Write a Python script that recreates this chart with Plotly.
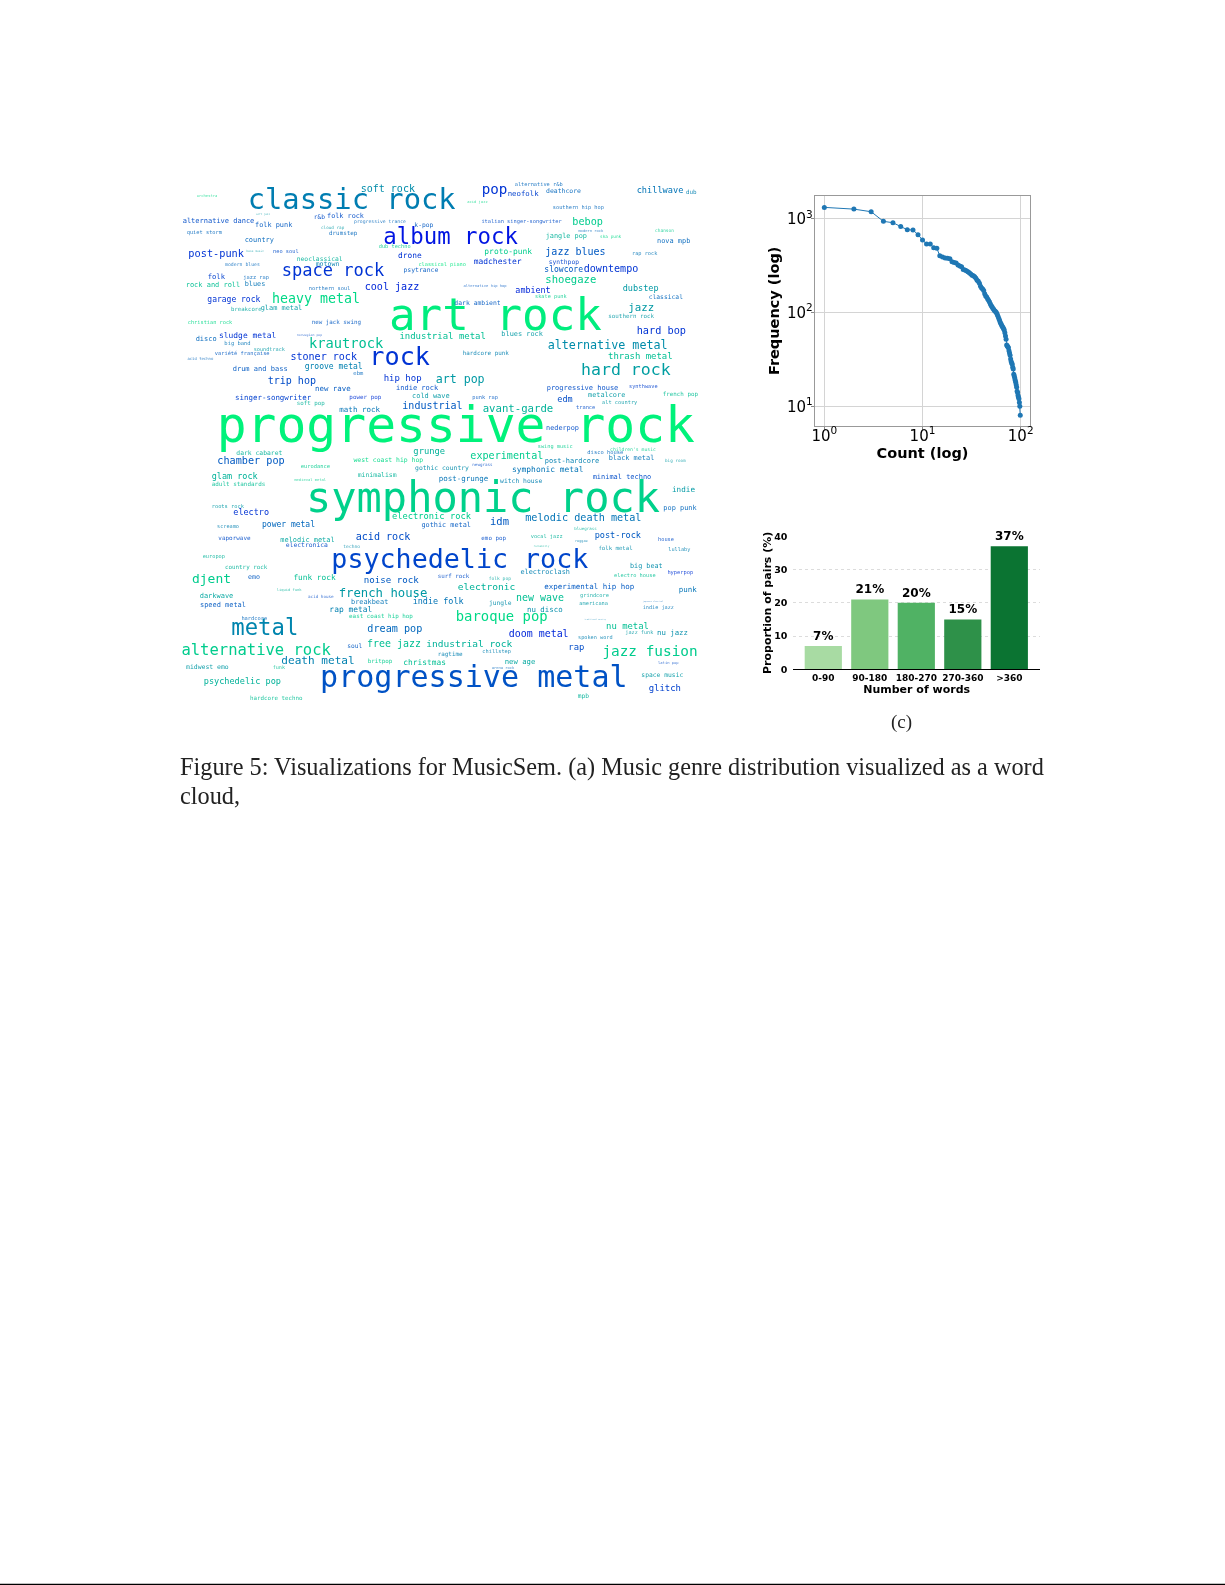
import plotly.graph_objects as go

PAGE_W, PAGE_H = 1225, 1585

# ---------- panel (b): rank / frequency ----------
rank = list(range(1, 100))
frequency = [
    1320, 1265, 1187, 937, 906, 828, 763, 757, 675, 593,
    537, 537, 491, 483, 403, 390, 381, 378, 375, 348,
    342, 337, 321, 313, 308, 288, 284, 279, 272, 265,
    258, 250, 246, 240, 232, 220, 215, 205, 190, 182,
    178, 172, 158, 150, 146, 140, 135, 130, 124, 119,
    115, 111, 108, 105, 103, 101, 98, 94, 90, 86,
    82, 78, 76, 73, 71, 69, 67, 65, 61, 56,
    52, 45, 44, 43, 42, 39, 37, 35, 32, 30,
    29, 28, 26, 25, 22, 21, 20, 19, 18, 17,
    16, 14.5, 14, 13, 12.5, 12, 11, 10, 8,
]
log_tick_vals_x = [1, 10, 100]
log_tick_text_x = ["10<sup>0</sup>", "10<sup>1</sup>", "10<sup>2</sup>"]
log_tick_vals_y = [10, 100, 1000]
log_tick_text_y = ["10<sup>1</sup>", "10<sup>2</sup>", "10<sup>3</sup>"]

# ---------- panel (c): word-count bars ----------
bar_labels = ["0-90", "90-180", "180-270", "270-360", ">360"]
bar_values = [7, 21, 20, 15, 37]
bar_text = ["7%", "21%", "20%", "15%", "37%"]
bar_colors = ["#a8dba3", "#7fc87f", "#50b264", "#2e9149", "#0b7432"]

# ---------- panel (a): word cloud ----------
# left edge, right edge, mid height (crop units) and tone (0 blue .. 1 green)
a_words = ["soft rock", "classic rock", "alternative dance", "folk punk", "r&b", "folk rock", "progressive trance", "k-pop",
           "quiet storm", "cloud rap", "drumstep", "album rock", "country", "dub techno", "post-punk", "neo soul",
           "bass music", "drone", "neoclassical", "modern blues", "motown", "space rock", "psytrance", "classical piano",
           "folk", "jazz rap", "blues", "rock and roll", "northern soul", "cool jazz", "heavy metal", "garage rock",
           "glam metal", "breakcore", "christian rock", "new jack swing", "disco", "sludge metal", "krautrock", "big band",
           "soundtrack", "industrial metal", "variété française", "stoner rock", "rock", "drum and bass", "groove metal", "trip hop",
           "hip hop", "new rave", "indie rock", "singer-songwriter", "power pop", "cold wave", "soft pop", "math rock",
           "industrial", "art rock", "progressive rock", "orchestra", "acid techno", "ebm", "norwegian pop", "soft jazz"]
a_x0 = [572, 233, 38, 255, 431, 471, 552, 733,
        50, 453, 477, 640, 224, 626, 55, 309,
        229, 684, 380, 165, 437, 335, 700, 745,
        113, 220, 224, 47, 416, 584, 306, 112,
        272, 183, 53, 425, 77, 147, 417, 163,
        251, 688, 134, 361, 598, 188, 404, 293,
        641, 435, 678, 195, 538, 726, 380, 508,
        697, 657, 140, 80, 52, 550, 380, 258]
a_x1 = [735, 857, 253, 367, 465, 582, 708, 790,
        156, 523, 562, 1044, 312, 722, 222, 386,
        282, 755, 518, 270, 508, 643, 805, 888,
        165, 297, 286, 211, 541, 748, 570, 271,
        397, 275, 187, 573, 140, 319, 640, 242,
        345, 948, 299, 561, 780, 353, 578, 438,
        755, 542, 805, 424, 634, 839, 464, 630,
        878, 1296, 1575, 142, 130, 580, 457, 300]
a_y = [54, 91, 152, 164, 139, 136, 153, 163,
       185, 170, 187, 203, 207, 228, 250, 243,
       240, 254, 265, 280, 281, 303, 299, 281,
       318, 319, 339, 344, 353, 349, 385, 387,
       411, 417, 456, 455, 506, 495, 521, 518,
       535, 497, 547, 559, 563, 596, 588, 631,
       624, 653, 651, 680, 681, 675, 698, 717,
       705, 444, 777, 74, 563, 608, 494, 130]
a_tone = [.55, .49, .3, .35, .3, .3, .4, .35,
          .4, .6, .4, .08, .4, .8, .2, .3,
          .6, .2, .7, .4, .5, .2, .35, .9,
          .25, .4, .45, .75, .4, .15, .85, .2,
          .6, .65, .85, .35, .4, .2, .75, .45,
          .6, .75, .35, .2, .2, .35, .5, .3,
          .2, .35, .3, .25, .2, .6, .7, .45,
          .35, .93, .95, .85, .4, .4, .3, .6]

b_words = ["pop", "neofolk", "alternative r&b", "deathcore", "chillwave", "dub", "acid jazz", "southern hip hop",
           "italian singer-songwriter", "bebop", "modern rock", "chanson", "jangle pop", "ska punk", "nova mpb", "proto-punk",
           "jazz blues", "rap rock", "madchester", "synthpop", "slowcore", "downtempo", "shoegaze", "alternative hip hop",
           "ambient", "dubstep", "skate punk", "classical", "dark ambient", "jazz", "southern rock", "hard bop",
           "blues rock", "alternative metal", "hardcore punk", "thrash metal", "hard rock", "art pop", "progressive house", "synthwave",
           "metalcore", "french pop", "edm", "alt country", "punk rap", "trance", "avant-garde", "nederpop"]
b_x0 = [125, 203, 224, 318, 590, 738, 82, 338,
        124, 397, 415, 645, 317, 480, 651, 133,
        316, 576, 101, 326, 313, 431, 316, 70,
        226, 548, 285, 626, 43, 565, 505, 590,
        184, 323, 68, 504, 423, -13, 320, 567,
        444, 668, 352, 486, 97, 408, 128, 318]
b_x1 = [202, 296, 368, 423, 730, 770, 143, 492,
        365, 489, 490, 702, 441, 544, 751, 276,
        497, 652, 245, 417, 429, 595, 469, 200,
        332, 656, 380, 729, 182, 643, 642, 738,
        309, 683, 207, 698, 692, 134, 535, 653,
        556, 774, 398, 592, 174, 466, 340, 417]
b_y = [58, 69, 42, 62, 61, 64, 94, 109,
       153, 155, 181, 179, 195, 198, 211, 243,
       244, 249, 273, 273, 297, 296, 328, 344,
       359, 354, 376, 380, 397, 411, 437, 480,
       489, 524, 548, 558, 599, 626, 651, 648,
       673, 671, 686, 694, 680, 709, 714, 773]
b_tone = [.2, .25, .4, .4, .45, .5, .85, .4,
          .3, .8, .4, .8, .7, .85, .4, .8,
          .35, .45, .2, .25, .35, .2, .8, .35,
          .15, .6, .8, .4, .35, .6, .6, .2,
          .6, .55, .5, .75, .62, .6, .3, .25,
          .6, .75, .3, .6, .35, .3, .7, .3]

c_words = ["dark cabaret", "chamber pop", "eurodance", "grunge", "west coast hip hop", "gothic country", "glam rock", "minimalism",
           "medieval metal", "adult standards", "roots rock", "electro", "electronic rock", "power metal", "screamo", "gothic metal",
           "acid rock", "vaporwave", "melodic metal", "electronica", "techno", "europop", "country rock", "djent",
           "emo", "funk rock", "noise rock", "darkwave", "french house", "acid house", "liquid funk", "speed metal",
           "breakbeat", "indie folk", "rap metal", "hardcore", "metal", "dream pop", "east coast hip hop", "soul",
           "free jazz", "industrial rock", "alternative rock", "death metal", "britpop", "christmas", "midwest emo", "funk",
           "psychedelic pop", "progressive metal", "hardcore techno", "psychedelic rock", "symphonic rock"]
c_x0 = [199, 142, 392, 730, 550, 735, 125, 563,
        373, 125, 125, 190, 666, 276, 141, 754,
        557, 145, 331, 347, 520, 98, 165, 66,
        234, 370, 581, 89, 506, 414, 320, 90,
        543, 728, 478, 214, 184, 592, 537, 532,
        591, 769, 34, 334, 593, 700, 48, 308,
        101, 450, 240, 484, 408]
c_x1 = [337, 344, 480, 825, 760, 897, 263, 680,
        468, 286, 222, 297, 903, 435, 207, 903,
        721, 242, 494, 474, 570, 165, 292, 183,
        270, 497, 746, 190, 772, 491, 395, 228,
        655, 881, 607, 292, 385, 757, 729, 577,
        753, 1027, 483, 554, 667, 828, 176, 345,
        333, 1373, 398, 1255, 1470]
c_y = [67, 91, 108, 62, 88, 113, 138, 134,
       147, 162, 227, 247, 258, 282, 288, 284,
       319, 322, 328, 344, 348, 378, 409, 445,
       438, 442, 448, 496, 488, 497, 476, 524,
       514, 512, 538, 562, 596, 594, 556, 645,
       641, 642, 660, 692, 691, 696, 710, 711,
       754, 745, 803, 390, 211]
c_tone = [.7, .35, .8, .7, .85, .55, .7, .7,
          .8, .75, .6, .2, .8, .4, .5, .35,
          .3, .3, .65, .3, .55, .7, .7, .8,
          .35, .75, .35, .65, .6, .3, .7, .35,
          .45, .45, .5, .4, .52, .4, .8, .35,
          .75, .7, .8, .5, .8, .75, .6, .75,
          .7, .32, .75, .27, .82]

d_words = ["swing music", "children's music", "disco house", "black metal", "experimental", "post-hardcore", "big room", "newgrass",
           "symphonic metal", "minimal techno", "post-grunge", "witch house", "indie", "pop punk", "idm", "melodic death metal",
           "post-rock", "emo pop", "vocal jazz", "reggae", "bluegrass", "house", "rockabilly", "folk metal",
           "lullaby", "big beat", "electroclash", "hyperpop", "electro house", "folk pop", "surf rock", "electronic",
           "experimental hip hop", "punk", "new wave", "grindcore", "americana", "jungle", "nu disco", "indie jazz",
           "baroque pop", "nu metal", "doom metal", "jazz funk", "nu jazz", "spoken word", "rap", "chillstep",
           "ragtime", "jazz fusion", "new age", "latin pop", "space music", "glitch", "mpb", "arena rock",
           "traditional country", "japanese classical"]
d_x0 = [293, 510, 442, 506, 91, 314, 675, 97,
        216, 458, -4, 180, 696, 670, 150, 255,
        464, 124, 272, 405, 403, 654, 280, 475,
        685, 570, 241, 682, 522, 146, -7, 53,
        313, 716, 228, 420, 418, 147, 261, 608,
        47, 498, 206, 556, 651, 414, 385, 127,
        -7, 487, 194, 654, 604, 626, 413, 155,
        433, 608]
d_x1 = [398, 648, 550, 643, 310, 478, 737, 158,
        431, 634, 145, 307, 765, 770, 207, 605,
        603, 198, 368, 443, 470, 702, 328, 578,
        751, 668, 390, 760, 647, 213, 88, 226,
        583, 770, 372, 507, 504, 215, 368, 702,
        323, 627, 386, 640, 744, 518, 433, 213,
        68, 773, 286, 716, 730, 723, 447, 223,
        498, 670]
d_y = [48, 55, 65, 81, 77, 90, 90, 102,
       116, 138, 145, 151, 177, 233, 275, 263,
       316, 322, 317, 329, 294, 327, 347, 354,
       357, 406, 424, 425, 435, 444, 438, 469,
       467, 477, 502, 494, 517, 518, 536, 531,
       561, 586, 612, 606, 606, 621, 651, 663,
       670, 664, 695, 697, 733, 772, 796, 711,
       565, 513]
d_tone = [.8, .8, .4, .45, .8, .5, .6, .3,
          .45, .3, .45, .5, .6, .4, .35, .45,
          .35, .3, .7, .5, .7, .3, .7, .55,
          .5, .55, .5, .2, .75, .65, .3, .7,
          .35, .45, .75, .65, .6, .55, .55, .45,
          .85, .75, .15, .6, .55, .5, .3, .5,
          .5, .8, .65, .3, .6, .25, .7, .4,
          .5, .4]

# crop origins of the four groups above (3 crop units = 1 page pixel)
a_origin = (170, 171)
b_origin = (440, 171)
c_origin = (170, 431)
d_origin = (440, 431)

caption_line_1 = "Figure 5: Visualizations for MusicSem. (a) Music genre distribution visualized as a word"
caption_line_2 = "cloud,"
panel_label = "(c)"

# ---------- assemble the word cloud ----------
wc_text, wc_x, wc_y, wc_size, wc_color = [], [], [], [], []
MONO_ADVANCE = 0.602
for words, x0s, x1s, ys, tones, origin in [
    (a_words, a_x0, a_x1, a_y, a_tone, a_origin),
    (b_words, b_x0, b_x1, b_y, b_tone, b_origin),
    (c_words, c_x0, c_x1, c_y, c_tone, c_origin),
    (d_words, d_x0, d_x1, d_y, d_tone, d_origin),
]:
    assert len(words) == len(x0s) == len(x1s) == len(ys) == len(tones), words[0]
    for w, x0, x1, y, t in zip(words, x0s, x1s, ys, tones):
        px0, px1 = origin[0] + x0 / 3, origin[0] + x1 / 3
        size = (px1 - px0) / (len(w) * MONO_ADVANCE)
        alpha = min(1.0, 0.5 + size / 16)
        wc_text.append(w)
        wc_x.append((px0 + px1) / 2)
        wc_y.append(origin[1] + y / 3)
        wc_size.append(size)
        wc_color.append(f"rgba(0,{255 * t:.0f},{235 * (1 - t / 2):.0f},{alpha:.2f})")


def dom_x(a, b):
    return [a / PAGE_W, b / PAGE_W]


def dom_y(top, bottom):
    return [1 - bottom / PAGE_H, 1 - top / PAGE_H]


fig = go.Figure()

fig.add_trace(go.Scatter(
    x=wc_x, y=wc_y, text=wc_text, mode="text", textposition="middle center",
    textfont=dict(family="DejaVu Sans Mono", size=wc_size, color=wc_color),
    xaxis="x", yaxis="y", hoverinfo="skip", showlegend=False, cliponaxis=False,
))

fig.add_trace(go.Scatter(
    x=rank, y=frequency, mode="lines+markers",
    line=dict(color="#1f77b4", width=1),
    marker=dict(color="#1f77b4", size=5),
    xaxis="x2", yaxis="y2", showlegend=False,
))

fig.add_trace(go.Bar(
    x=bar_labels, y=bar_values, text=bar_text, textposition="outside",
    textfont=dict(family="DejaVu Sans", size=12, color="black", weight=700),
    marker=dict(color=bar_colors, line_width=0), width=0.8,
    xaxis="x3", yaxis="y3", showlegend=False, cliponaxis=False,
))

title_font = dict(family="DejaVu Sans", color="black", weight=700)
fig.update_layout(
    width=PAGE_W, height=PAGE_H, autosize=False,
    margin=dict(l=0, r=0, t=0, b=0, pad=0, autoexpand=False),
    paper_bgcolor="white", plot_bgcolor="rgba(0,0,0,0)",
    xaxis=dict(domain=[0, 1], range=[0, PAGE_W], visible=False, fixedrange=True),
    yaxis=dict(domain=[0, 1], range=[PAGE_H, 0], visible=False, fixedrange=True),
    xaxis2=dict(
        domain=dom_x(814.7, 1030.3), anchor="y2", type="log", range=[-0.098, 2.098],
        tickvals=log_tick_vals_x, ticktext=log_tick_text_x,
        tickfont=dict(family="DejaVu Sans", size=15, color="black"),
        ticks="outside", ticklen=3, tickcolor="#888", showgrid=True, gridcolor="#d4d4d4", gridwidth=1,
        ticklabelstandoff=-7,
        showline=True, linecolor="#999", linewidth=1, mirror=True, zeroline=False,
        title=dict(text="Count (log)", font=dict(size=14.5, **title_font), standoff=3),
    ),
    yaxis2=dict(
        domain=dom_y(196, 425.7), anchor="x2", type="log", range=[0.793, 3.242],
        tickvals=log_tick_vals_y, ticktext=log_tick_text_y,
        tickfont=dict(family="DejaVu Sans", size=15, color="black"),
        ticks="outside", ticklen=3, tickcolor="#888", showgrid=True, gridcolor="#d4d4d4", gridwidth=1,
        ticklabelstandoff=-5,
        showline=True, linecolor="#999", linewidth=1, mirror=True, zeroline=False,
        title=dict(text="Frequency (log)", font=dict(size=14.5, **title_font), standoff=3),
    ),
    xaxis3=dict(
        domain=dom_x(793.3, 1040), anchor="y3", type="category",
        range=[-0.645, 4.66], showgrid=False, showline=True, linecolor="black", linewidth=1.2,
        ticks="", zeroline=False,
        tickfont=dict(family="DejaVu Sans", size=9, color="black", weight=700),
        title=dict(text="Number of words", font=dict(size=11, **title_font), standoff=3),
    ),
    yaxis3=dict(
        domain=dom_y(536.3, 669.3), anchor="x3", range=[0, 40],
        tickvals=[0, 10, 20, 30, 40], showgrid=True, gridcolor="#dcdcdc", griddash="dot", gridwidth=1,
        showline=False, ticks="outside", ticklen=3, tickcolor="rgba(0,0,0,0)", zeroline=False,
        tickfont=dict(family="DejaVu Sans", size=9.5, color="black", weight=700),
        title=dict(text="Proportion of pairs (%)", font=dict(size=11, **title_font), standoff=0),
    ),
    font=dict(family="DejaVu Sans"),
    annotations=[
        dict(text=panel_label, xref="x", yref="y", x=901.5, y=721.5, showarrow=False,
             font=dict(family="Liberation Serif", size=19, color="#222")),
        dict(text=caption_line_1, xref="x", yref="y", x=178, y=767, showarrow=False, xanchor="left",
             font=dict(family="Liberation Serif", size=24.3, color="#222")),
        dict(text=caption_line_2, xref="x", yref="y", x=178, y=795, showarrow=False, xanchor="left",
             font=dict(family="Liberation Serif", size=24.3, color="#222")),
    ],
    shapes=[dict(type="line", xref="x", yref="y", x0=0, x1=PAGE_W, y0=1584.5, y1=1584.5,
                 line=dict(color="black", width=1.5))],
)

post = """
document.body.style.margin = '0';
document.body.style.overflow = 'hidden';
var s = document.createElement('style');
s.textContent = '.cartesianlayer, .g-xtitle, .g-x2title, .g-x3title, .g-ytitle, .g-y2title, .g-y3title { filter: blur(0.6px); }';
document.head.appendChild(s);
"""
fig.write_html("out.html", post_script=post, config={"displayModeBar": False})
